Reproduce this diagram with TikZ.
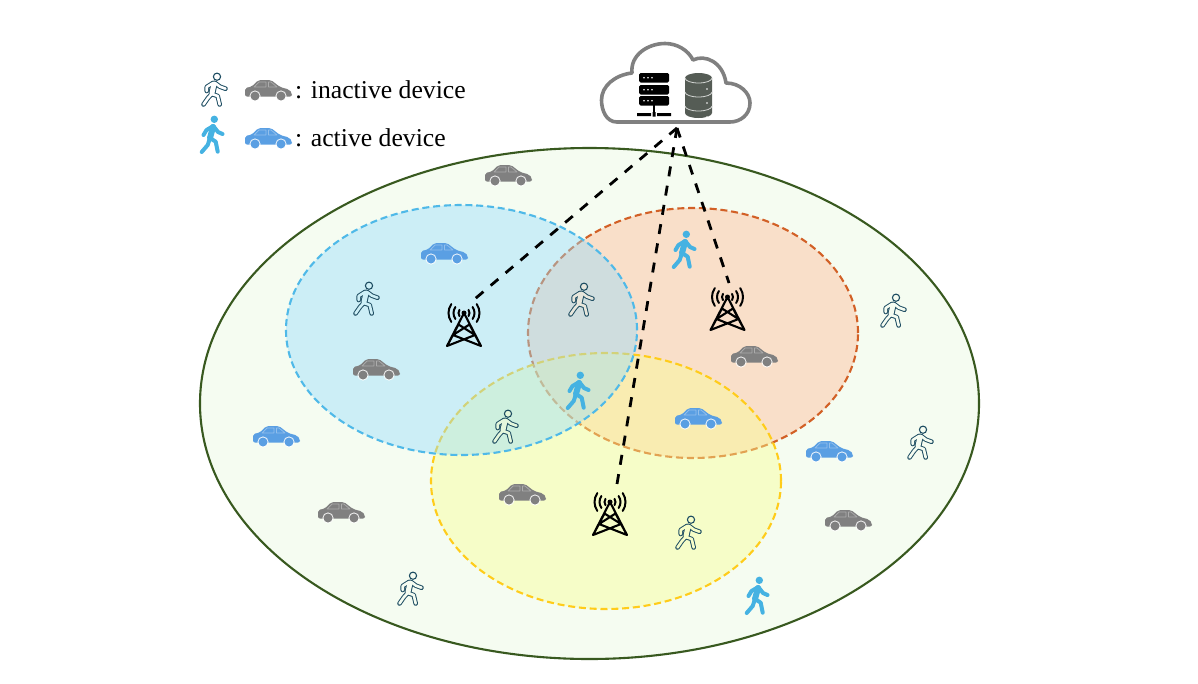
\documentclass[tikz,border=0pt]{standalone}
\usepackage{fontspec}
\setmainfont{Liberation Serif}
\definecolor{cellblue}{HTML}{95DCFD}
\definecolor{cellorange}{HTML}{FFB892}
\definecolor{cellyellow}{HTML}{F9FF90}
\definecolor{macrofill}{HTML}{F5FCF1}
\definecolor{macroline}{HTML}{38591F}
\definecolor{idlecar}{HTML}{808080}
\definecolor{activecar}{HTML}{5A9FE3}
\definecolor{activeman}{HTML}{45B2E2}
\definecolor{idleman}{HTML}{1F4E63}
\definecolor{dbgray}{HTML}{555C55}
\newcommand{\manlimbs}{(-7.3,1) -- (-7.3,-3) -- (-1,-7) (1,-7) -- (6,-3.3) -- (11.5,-1.3)
      (-2.3,4) -- (-6,8) -- (-10.5,14.5) (-2.3,4) -- (3.7,6) -- (5.7,14.5)}
\newcommand{\mantorso}{(0,-6) -- (-2,3)}
\tikzset{
  cell/.style={line width=2.1pt, dash pattern=on 7pt off 3.8pt},
  backhaul/.style={line width=2.8pt, dash pattern=on 10pt off 9.5pt},
  legendtext/.style={anchor=base west, inner sep=0pt, font=\fontsize{25.7}{30}\selectfont},
  car/.pic={
    \fill[rounded corners=2pt, #1] (-23,6.5) -- (-23,-2) -- (-16,-3.5) -- (-10,-9.8) -- (3,-10) -- (12,-3) -- (21,-.5) -- (24,3) -- (24,6.5) -- cycle;
    \draw[white, opacity=.35, line width=.7pt, line join=round] (-14,-3) -- (-9,-8) -- (-2,-8) -- (-2,-3) -- cycle (.5,-8) -- (3,-8) -- (9,-3) -- (.5,-3) -- cycle;
    \foreach \wheelx in {-13,13} {
      \fill[white, opacity=.85] (\wheelx,6) circle (5.6pt);
      \fill[#1] (\wheelx,6) circle (4.5pt);
    }
  },
  idleman/.pic={
    \begin{scope}[line join=round, line cap=round]
      \draw[idleman, line width=4.6pt] \manlimbs;
      \draw[idleman, line width=7pt] \mantorso;
      \draw[#1, line width=2.6pt] \manlimbs;
      \draw[#1, line width=5pt] \mantorso;
    \end{scope}
    \draw[idleman, line width=1.1pt, fill=#1] (3,-13.3) circle (3.6pt);
  },
  activeman/.pic={
    \begin{scope}[activeman, line join=round, line cap=round]
      \draw[line width=4pt] (1.3,-9) -- (-5.5,-5) -- (-8.5,0) (1.3,-9) -- (6,-3) -- (10.5,-1)
        (-2,3) -- (-4.3,10) -- (-10.3,17) (-2,3) -- (3.7,6.7) -- (5.7,16.7);
      \draw[line width=6pt] (1,-8) -- (-2,3);
      \fill (2.3,-15.7) circle (3.7pt);
    \end{scope}
  },
  tower/.pic={
    \draw[line width=2.1pt, line join=round, line cap=round]
      (-17,33) -- (0,0) -- (17,33) -- (5.5,11.5) -- (-11,22) -- (-17,33) -- (-5.5,11.5) -- (11,22) -- (17,33)
      (-17,33) -- (11,22) (17,33) -- (-11,22);
    \fill (0,0) circle (2.5pt);
    \foreach \waver in {5.5,10.5,15.5} {
      \draw[line width=2pt, line cap=round] (0,0) ++(145:\waver) arc (145:215:\waver);
      \draw[line width=2pt, line cap=round] (0,0) ++(35:\waver) arc (35:-35:\waver);
    }
  }
}
\begin{document}
\begin{tikzpicture}[x=1pt, y=-1pt]
  \useasboundingbox (0,0) rectangle (1198,683);
  \draw[macroline, fill=macrofill, line width=2.1pt] (589.5,403.5) ellipse [x radius=389.5pt, y radius=255.5pt];
  \fill[cellorange, fill opacity=.42] (693,333) ellipse [x radius=165pt, y radius=125pt];
  \draw[cell, color={rgb,255:red,210;green,96;blue,38}] (693,333) ellipse [x radius=165pt, y radius=125pt];
  \fill[cellyellow, fill opacity=.42] (606,481) ellipse [x radius=175pt, y radius=128pt];
  \draw[cell, color={rgb,255:red,255;green,204;blue,26}] (606,481) ellipse [x radius=175pt, y radius=128pt];
  \fill[cellblue, fill opacity=.42] (461.5,330) ellipse [x radius=175.5pt, y radius=125pt];
  \draw[cell, color={rgb,255:red,79;green,185;blue,232}] (461.5,330) ellipse [x radius=175.5pt, y radius=125pt];

  \draw[idlecar, line width=3.6pt, line join=round]
    (617,122) .. controls (606,122) and (601.5,110) .. (601.5,100)
    .. controls (601.5,86) and (615,75) .. (632,73)
    .. controls (630,55) and (648,43.5) .. (665,43.5)
    .. controls (677,43.5) and (688,50) .. (693,60)
    .. controls (705,54) and (723,62) .. (726,83)
    .. controls (740,83) and (750,93) .. (750,103)
    .. controls (750,115) and (740,122) .. (730,122) -- cycle;
  \foreach \racky in {73,85,96} {
    \fill[rounded corners=1.5pt] (639,\racky) rectangle (669,\racky+9.5);
    \foreach \dotx in {644,648,652} \fill[white] (\dotx,\racky+4.7) circle (.9pt);
  }
  \fill (653,105) rectangle (655,112);
  \fill (637,113) rectangle (651,116) (652.5,112) rectangle (655.5,116.5) (657,113) rectangle (671,116);
  \fill[dbgray] (685,78) -- (685,113) arc (180:360:13.5pt and 5pt) -- (712,78) arc (0:180:13.5pt and 5pt) -- cycle;
  \draw[white!75!dbgray, line width=.8pt] (685,78) arc (180:360:13.5pt and 5pt);
  \foreach \layery in {92,106} \draw[white!75!dbgray, line width=.8pt] (685,\layery) arc (180:360:13.5pt and 5pt);
  \foreach \layery in {89,103,117} \fill[white] (707,\layery) circle (.9pt);

  \node[legendtext] (inactive) at (295,98) {: inactive device};
  \node[legendtext] (active) at (295,146) {: active device};
  \pic at (214,90) {idleman=white};
  \pic at (268,90) {car=idlecar};
  \pic at (212,135) {activeman};
  \pic at (268,138) {car=activecar};

  \foreach \carx/\cary in {508/175,376/369,754/356,341/512,522/494,848/520}
    \pic at (\carx,\cary) {car=idlecar};
  \foreach \carx/\cary in {444/253,698/418,276/436,829/451}
    \pic at (\carx,\cary) {car=activecar};
  \foreach \manx/\many/\manbg in {366/299/cellblue!42!macrofill,581/300/cellblue!42!cellorange!42!macrofill,893/311/macrofill,505/427/cellblue!42!cellyellow!42!macrofill,688/533/cellyellow!42!macrofill,920/443/macrofill,410/589/macrofill}
    \pic at (\manx,\many) {idleman=\manbg};
  \foreach \manx/\many in {684/250,578/391,757/596}
    \pic at (\manx,\many) {activeman};

  \pic at (464,313) {tower};
  \pic at (727.5,297) {tower};
  \pic at (610,502) {tower};

  \coordinate (cloud) at (677,128);
  \coordinate (bsblue) at (470,303);
  \coordinate (bsorange) at (729,283);
  \coordinate (bsyellow) at (616,490);
  \draw[backhaul] (cloud) -- (bsblue);
  \draw[backhaul] (cloud) -- (bsorange);
  \draw[backhaul] (cloud) -- (bsyellow);
\end{tikzpicture}
\end{document}
